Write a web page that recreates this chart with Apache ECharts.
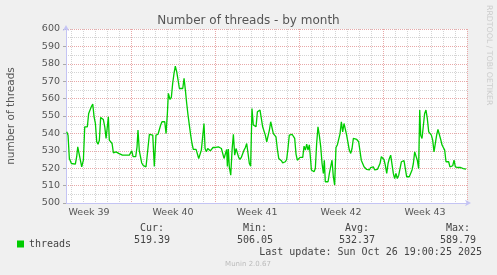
<!DOCTYPE html>
<html>
<head>
<meta charset="utf-8">
<script src="https://cdn.jsdelivr.net/npm/echarts@6/dist/echarts.min.js"></script>
<style>html,body{margin:0;padding:0;background:#f0f0f0;}#c{width:497px;height:275px;}</style>
</head>
<body>
<div id="c"></div>
<script>
// x values: days since Mon 22 Sep 2025 00:00
const days = [1.64,1.75,1.86,2.03,2.19,2.36,2.47,2.56,2.64,2.75,2.89,2.97,3.03,3.14,3.25,3.36,3.47,3.58,3.69,3.81,3.92,4.03,4.14,4.25,4.36,4.47,4.58,4.69,4.81,4.92,5.03,5.11,5.19,5.31,5.42,5.53,5.64,5.75,5.86,5.97,6.08,6.28,6.47,6.69,6.86,6.97,7.06,7.17,7.28,7.39,7.50,7.58,7.69,7.75,7.89,8.03,8.14,8.25,8.39,8.53,8.69,8.81,8.94,9.08,9.25,9.36,9.47,9.58,9.69,9.81,9.92,10.03,10.11,10.25,10.36,10.47,10.58,10.69,10.81,10.92,11.03,11.19,11.31,11.42,11.53,11.64,11.75,11.86,11.97,12.08,12.19,12.31,12.42,12.53,12.64,12.75,12.86,12.97,13.08,13.17,13.28,13.39,13.50,13.61,13.72,13.83,13.94,14.06,14.17,14.28,14.39,14.53,14.64,14.75,14.86,14.97,15.03,15.11,15.19,15.31,15.42,15.53,15.64,15.75,15.86,15.97,16.08,16.19,16.31,16.42,16.53,16.64,16.75,16.86,16.97,17.08,17.19,17.31,17.42,17.53,17.64,17.75,17.86,17.97,18.08,18.19,18.31,18.42,18.53,18.64,18.75,18.86,18.97,19.08,19.19,19.31,19.42,19.53,19.64,19.75,19.86,19.97,20.08,20.19,20.31,20.42,20.53,20.64,20.75,20.86,20.97,21.08,21.19,21.31,21.42,21.53,21.64,21.75,21.86,21.97,22.03,22.14,22.25,22.36,22.47,22.58,22.69,22.81,22.92,23.03,23.11,23.19,23.31,23.42,23.53,23.64,23.75,23.86,23.97,24.08,24.19,24.31,24.42,24.53,24.64,24.75,24.86,24.97,25.08,25.19,25.31,25.42,25.53,25.64,25.81,25.97,26.08,26.19,26.31,26.42,26.53,26.64,26.75,26.86,26.97,27.08,27.19,27.31,27.42,27.53,27.64,27.75,27.86,27.97,28.08,28.19,28.31,28.42,28.53,28.64,28.75,28.86,28.97,29.08,29.19,29.31,29.42,29.53,29.64,29.75,29.86,29.97,30.08,30.19,30.31,30.42,30.53,30.64,30.75,30.86,30.97,31.06,31.14,31.25,31.36,31.47,31.58,31.69,31.81,31.92,32.03,32.14,32.25,32.36,32.47,32.58,32.69,32.81,32.92,33.03,33.14,33.25,33.36,33.47,33.58,33.69,33.81,33.92,34.03,34.14,34.25,34.36,34.47,34.58,34.69,34.81,34.92];
const threads = [540.9,539.0,525.6,522.7,521.8,522.3,526.6,532.3,529.4,530.0,520.8,520.4,524.6,543.8,544.4,543.8,551.5,552.4,555.3,556.8,549.5,545.7,535.2,533.8,536.1,549.2,549.2,548.0,543.8,537.1,538.0,549.5,536.1,535.7,534.2,528.8,528.5,529.4,530.4,528.5,527.9,527.5,527.5,527.5,527.5,528.1,530.0,526.6,525.6,526.6,532.3,541.9,530.0,528.0,523.0,521.5,521.0,520.8,520.4,539.5,539.9,539.0,521.0,539.0,539.5,540.0,544.8,546.7,547.2,546.7,539.9,551.5,563.0,559.5,560.7,568.7,574.4,578.7,575.4,570.6,565.8,565.4,565.8,571.6,564.9,557.2,550.5,544.8,539.0,534.2,530.8,531.9,530.8,531.9,525.6,525.6,530.4,530.4,545.7,531.3,529.4,531.3,530.8,530.0,530.8,531.9,532.7,531.9,531.9,532.3,532.7,531.3,530.8,525.6,524.6,530.8,521.0,531.0,520.8,516.0,530.4,539.5,527.5,531.3,532.3,526.2,525.0,526.2,525.6,530.4,531.9,534.2,528.5,522.7,521.2,554.3,544.8,545.7,543.8,552.4,553.4,553.4,548.6,543.8,544.8,539.0,535.2,536.1,541.9,546.7,546.1,539.9,539.0,538.0,531.3,525.6,525.0,524.3,523.1,522.7,523.7,525.0,531.3,539.0,539.9,539.5,539.9,537.1,528.1,524.6,525.6,526.2,526.9,526.2,532.7,530.4,533.8,530.4,533.4,524.6,519.0,518.0,518.0,519.8,534.2,543.8,539.0,532.3,522.7,517.0,524.6,512.2,513.1,512.2,517.0,516.0,524.6,515.1,510.3,531.9,533.3,534.2,539.9,546.7,540.9,545.7,545.7,539.0,538.0,530.4,528.5,531.3,537.1,537.1,536.5,535.2,534.2,524.6,525.6,520.8,520.4,519.3,519.8,519.0,520.4,519.8,520.8,519.0,519.8,519.3,519.0,522.7,526.6,527.5,525.0,521.8,517.0,522.7,525.6,527.5,526.6,517.0,514.1,517.0,514.1,516.0,515.1,523.7,523.7,524.3,519.8,515.1,514.1,515.1,514.1,519.0,522.7,529.4,528.5,524.6,519.8,553.4,539.0,537.1,538.0,551.5,553.4,548.6,540.9,540.9,539.0,536.1,529.4,530.4,539.0,542.3,542.8,536.5,533.3,534.2,530.4,523.7,522.7,523.7,520.8,520.4,521.4,524.6,520.8,520.4,520.4,520.4,520.4,519.3,519.8,519.8,519.4];
const weekLabelPos = [3.5, 10.5, 17.5, 24.5, 31.5];
const weekLabels = ['Week 39', 'Week 40', 'Week 41', 'Week 42', 'Week 43'];
const yTicks = [500, 510, 520, 530, 540, 550, 560, 570, 580, 590, 600];
const statNames = ['Cur:', 'Min:', 'Avg:', 'Max:'];
const statValues = ['519.39', '506.05', '532.37', '589.79'];
const xMin = 1.58, xMax = 35;

const dayTicks = [];
for (let d = Math.ceil(xMin); d <= xMax; d++) dayTicks.push(d);
const RED = '#e8a8a8', GREY = '#d4d4d4';
const splitColors = [];
for (let i = 0; i < 7; i++) splitColors.push(((dayTicks[0] + i) % 7 === 0) ? RED : GREY);

const chart = echarts.init(document.getElementById('c'), null, {renderer: 'canvas'});
const mono = 'DejaVu Sans Mono';
const sans = 'DejaVu Sans';
const statX = [152, 255, 357, 458];
const gfx = [];
statNames.forEach((n, i) => {
  gfx.push({type: 'text', x: statX[i], y: 228, style: {text: n, font: '10px ' + mono, fill: '#444', align: 'center', verticalAlign: 'middle'}});
  gfx.push({type: 'text', x: statX[i], y: 240, style: {text: statValues[i], font: '10px ' + mono, fill: '#444', align: 'center', verticalAlign: 'middle'}});
});
gfx.push({type: 'text', x: 482, y: 252, style: {text: 'Last update: Sun Oct 26 19:00:25 2025', font: '10px ' + mono, fill: '#444', align: 'right', verticalAlign: 'middle'}});
gfx.push({type: 'text', x: 248, y: 264, style: {text: 'Munin 2.0.67', font: '7px ' + sans, fill: '#bbbbbb', align: 'center', verticalAlign: 'middle'}});
gfx.push({type: 'text', x: 489, y: 5, rotation: -Math.PI / 2, style: {text: 'RRDTOOL / TOBI OETIKER', font: '7.8px ' + sans, fill: '#cccccc', align: 'left', verticalAlign: 'middle'}});

chart.setOption({
  animation: false,
  backgroundColor: '#f0f0f0',
  title: {
    text: 'Number of threads - by month', left: 'center', top: 10,
    textStyle: {fontFamily: sans, fontSize: 12, fontWeight: 'normal', color: '#555'}
  },
  legend: {
    data: ['threads'], left: 12, top: 234, icon: 'rect', itemWidth: 7, itemHeight: 7, itemGap: 5,
    textStyle: {fontFamily: mono, fontSize: 10, color: '#444'}
  },
  grid: {left: 66, right: 30, top: 29, bottom: 72, show: true, backgroundColor: '#ffffff', borderWidth: 0, containLabel: false, outerBoundsMode: 'none'},
  xAxis: {
    type: 'value', min: xMin, max: xMax,
    axisLine: {show: true, lineStyle: {color: '#c4c4f4', width: 1}, symbol: ['none', 'arrow'], symbolSize: [5, 6], symbolOffset: [0, 4]},
    axisTick: {show: false, customValues: dayTicks},
    axisLabel: {customValues: weekLabelPos, formatter: v => weekLabels[weekLabelPos.indexOf(v)] || '', fontFamily: sans, fontSize: 9.5, color: '#555', margin: 5},
    splitLine: {show: true, lineStyle: {color: splitColors, type: [1, 1], width: 1}}
  },
  yAxis: {
    type: 'value', min: 500, max: 600, interval: 10,
    name: 'number of threads', nameLocation: 'middle', nameGap: 49,
    nameTextStyle: {fontFamily: sans, fontSize: 10.5, color: '#555'},
    axisLine: {show: true, lineStyle: {color: '#c4c4f4', width: 1}, symbol: ['none', 'arrow'], symbolSize: [5, 6], symbolOffset: [0, 4]},
    axisTick: {show: true, length: 3, lineStyle: {color: '#aaaaaa'}},
    axisLabel: {fontFamily: sans, fontSize: 9.5, color: '#555', margin: 6, formatter: v => (yTicks.indexOf(v) >= 0 ? String(v) : '')},
    splitLine: {show: true, lineStyle: {color: RED, type: [1, 1], width: 1}},
    minorTick: {show: false, splitNumber: 2},
    minorSplitLine: {show: true, lineStyle: {color: GREY, type: [1, 1], width: 1}}
  },
  series: [{
    name: 'threads', type: 'line', showSymbol: false, symbol: 'none',
    data: days.map((d, i) => [d, threads[i]]),
    lineStyle: {color: '#00cc00', width: 1.3}, itemStyle: {color: '#00cc00'}
  }],
  graphic: gfx
});
</script>
</body>
</html>
